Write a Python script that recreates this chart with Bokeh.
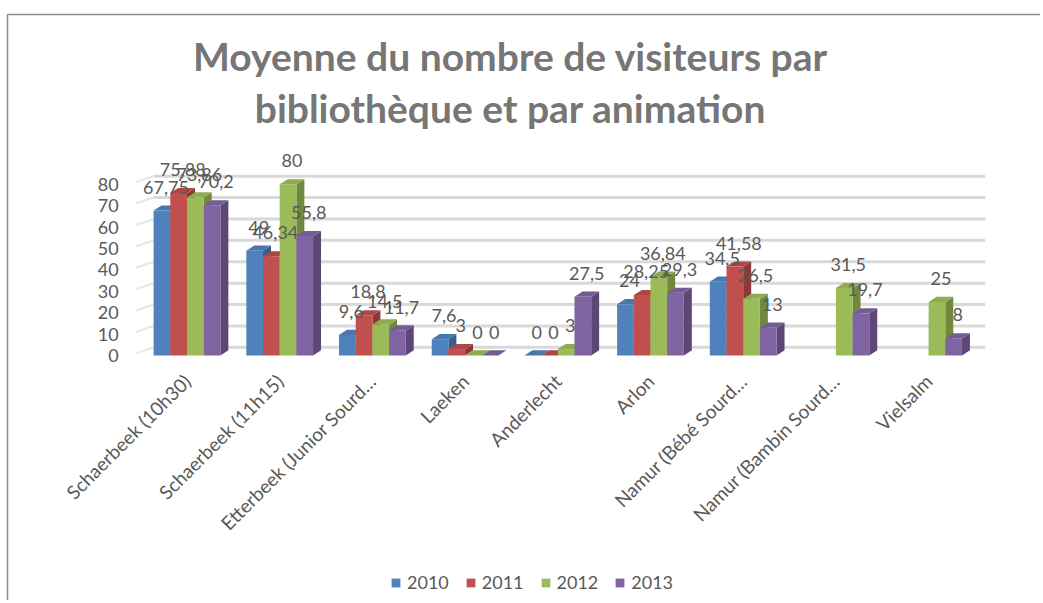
import math
from bokeh.plotting import figure
from bokeh.models import FixedTicker, Legend, LegendItem
from bokeh.embed import file_html
from bokeh.resources import INLINE
from bokeh.core.properties import value

categories = ["Schaerbeek (10h30)", "Schaerbeek (11h15)", "Etterbeek (Junior Sourd…",
              "Laeken", "Anderlecht", "Arlon", "Namur (Bébé Sourd…",
              "Namur (Bambin Sourd…", "Vielsalm"]
years = ["2010", "2011", "2012", "2013"]
nan = float("nan")
v2010 = [67.75, 49, 9.6, 7.6, 0, 24, 34.5, nan, nan]
v2011 = [75.88, 46.34, 18.8, 3, 0, 28.25, 41.58, nan, nan]
v2012 = [73.86, 80, 14.5, 0, 3, 36.84, 26.5, 31.5, 25]
v2013 = [70.2, 55.8, 11.7, 0, 27.5, 29.3, 13, 19.7, 8]
y_ticks = [0, 10, 20, 30, 40, 50, 60, 70, 80]
title_lines = ["Moyenne du nombre de visiteurs par", "bibliothèque et par animation"]

series = [v2010, v2011, v2012, v2013]
front_colors = ["#4F81BD", "#C0504D", "#9BBB59", "#8064A2"]
top_colors = ["#4877AE", "#AE4744", "#8DAC50", "#745B94"]
side_colors = ["#385D8A", "#8C3836", "#71893F", "#5C4776"]

FONT = "Lato"
GRAY = "#595959"

# canvas geometry (pixels) -> data mapping
W, H = 1040, 600
XPX, X0PX = 92.7, 186.5      # px per category, px of first category
YPX, Y0PX = 2.14, 355.0      # px per unit, px of value 0


def fx(px):
    return (px - X0PX) / XPX


def fy(py):
    return (Y0PX - py) / YPX


p = figure(width=W, height=H, x_range=(fx(0), fx(W)), y_range=(fy(H), fy(0)),
           output_backend="svg", toolbar_location=None, title=None,
           min_border=0)
p.outline_line_color = None
p.xgrid.visible = False
p.ygrid.visible = False

# outer chart border (top and left)
p.segment(x0=[fx(7), fx(7)], y0=[fy(14), fy(14)], x1=[fx(W), fx(7)], y1=[fy(14), fy(H)],
          line_color="#8c8c8c", line_width=1.5)

# title
p.text(x=[fx(510), fx(510)], y=[fy(55), fy(107)], text=title_lines,
       text_font=value(FONT), text_font_style="bold", text_font_size="39px",
       text_color="#767676", text_align="center", text_baseline="middle")

# gridlines (back wall, offset for 3D)
gy = 3.8
gl = [t + gy for t in y_ticks]
p.segment(x0=[-0.36] * len(y_ticks), x1=[8.61] * len(y_ticks), y0=gl, y1=gl,
          line_color="#d9d9d9", line_width=3)
p.segment(x0=[-0.55] * len(y_ticks), x1=[-0.36] * len(y_ticks),
          y0=[t + 1.0 for t in y_ticks], y1=gl, line_color="#e6e6e6", line_width=2)

bw = 0.18
dx = 0.086
dy = 2.4
legend_items = []
label_x, label_y, label_t = [], [], []
for i, vals in enumerate(series):
    off = (i - 1.5) * bw
    x0s, x1s, tops = [], [], []
    sxs, sys_, txs, tys = [], [], [], []
    for c, v in enumerate(vals):
        if v != v:
            continue
        x0 = c + off - bw / 2
        x1 = x0 + bw
        x0s.append(x0); x1s.append(x1); tops.append(v)
        sxs.append([x1, x1 + dx, x1 + dx, x1])
        sys_.append([0, dy, v + dy, v])
        txs.append([x0, x1, x1 + dx, x0 + dx])
        tys.append([v, v, v + dy, v + dy])
        s = ("%g" % v).replace(".", ",")
        label_x.append(c + off + dx / 2)
        label_y.append(v + dy + 5.5)
        label_t.append(s)
    p.patches(xs=sxs, ys=sys_, fill_color=side_colors[i], line_color=None)
    p.patches(xs=txs, ys=tys, fill_color=top_colors[i], line_color=None)
    r = p.quad(left=x0s, right=x1s, bottom=[0] * len(tops), top=tops,
               fill_color=front_colors[i], line_color=None)
    legend_items.append(LegendItem(label=years[i], renderers=[r]))

p.text(x=label_x, y=label_y, text=label_t, text_font=value(FONT),
       text_font_size="18px", text_color=GRAY, text_align="center",
       text_baseline="bottom")

# axes (drawn at fixed data locations inside the canvas)
p.yaxis.fixed_location = -0.5
p.yaxis.ticker = FixedTicker(ticks=y_ticks)
p.yaxis.axis_line_color = None
p.yaxis.major_tick_line_color = None
p.yaxis.minor_tick_line_color = None
p.yaxis.major_label_standoff = 16
p.yaxis.major_label_text_font = FONT
p.yaxis.major_label_text_font_size = "18px"
p.yaxis.major_label_text_color = GRAY

p.xaxis.fixed_location = -1.5
p.xaxis.ticker = FixedTicker(ticks=list(range(len(categories))))
p.xaxis.major_label_overrides = {i: c for i, c in enumerate(categories)}
p.xaxis.major_label_orientation = math.pi / 4
p.xaxis.axis_line_color = None
p.xaxis.major_tick_line_color = None
p.xaxis.minor_tick_line_color = None
p.xaxis.major_label_standoff = 13
p.xaxis.major_label_text_font = FONT
p.xaxis.major_label_text_font_size = "19px"
p.xaxis.major_label_text_color = GRAY

legend = Legend(items=legend_items, orientation="horizontal", location=(390, 7),
                label_text_font=FONT, label_text_font_size="18px",
                label_text_color=GRAY, glyph_width=11, glyph_height=11,
                label_standoff=6, spacing=16, border_line_color=None,
                background_fill_alpha=0, padding=8, margin=0)
p.add_layout(legend, "center")

open("out.html", "w").write(file_html(p, INLINE))
